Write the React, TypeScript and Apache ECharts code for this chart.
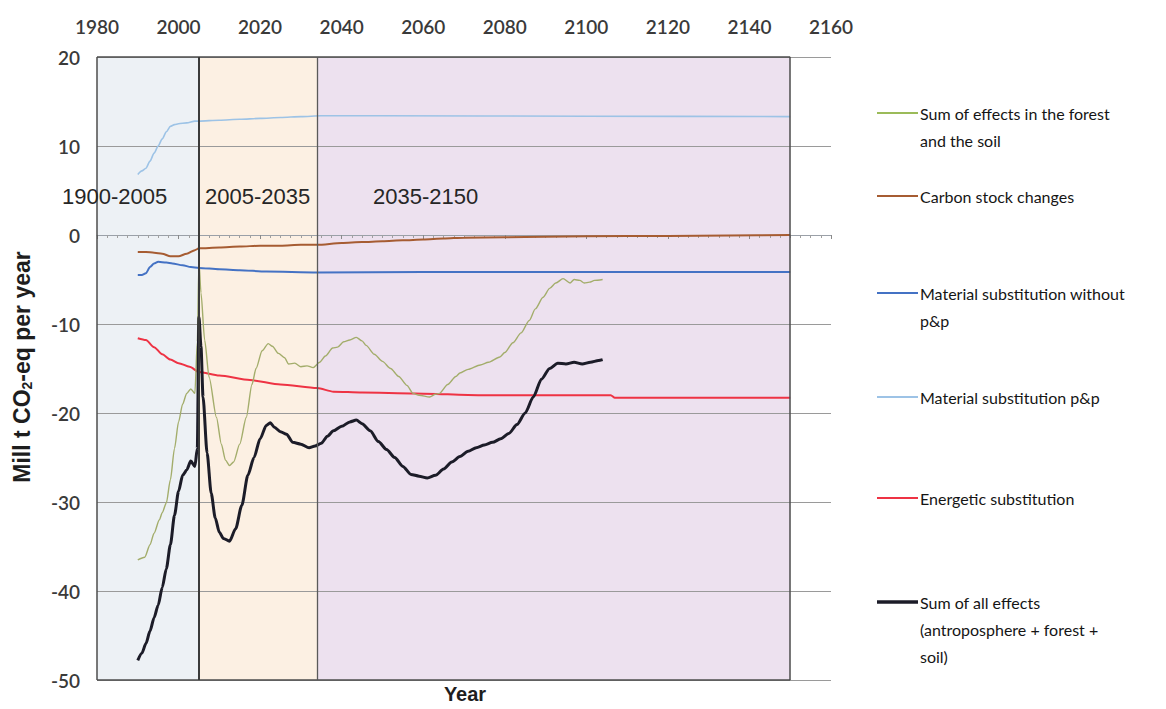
import { useEffect, useRef } from "react";
import * as echarts from "echarts";

// Axis ranges and ticks
const yearMin = 1980;
const yearMax = 2160;
const yearStep = 20;
const valueMin = -50;
const valueMax = 20;
const valueStep = 10;

// Period boundaries (years) and labels
const periodBounds = [1980, 2005, 2034, 2150];
const periodLabels = ["1900-2005", "2005-2035", "2035-2150"];
const periodColors = ["#edf1f5", "#fcf0e3", "#ede1ef"];

// Series: [year, Mill t CO2-eq per year]
const forestSoil: [number, number][] = [
  [1990, -36.5], [1991.7, -36.2], [1993, -34.8], [1994, -33.5], [1995.3, -32.0], [1996, -31.2],
  [1997, -30.1], [1998, -27.5], [1999, -24.0], [2000, -21.0], [2001, -19.0], [2002, -17.8],
  [2003, -17.3], [2004, -17.8], [2004.6, -12.0], [2005, -3.0], [2005.5, -6.5], [2006.4, -11.8],
  [2007.5, -16.0], [2009.3, -20.5], [2010.5, -23.5], [2011.5, -25.3], [2012.5, -25.9], [2013.5, -25.5],
  [2015, -23.5], [2016.6, -20.5], [2018, -16.8], [2019, -15.0], [2020.5, -13.0], [2022, -12.2],
  [2023, -12.5], [2024.5, -13.3], [2026, -13.8], [2027, -14.5], [2028.5, -14.4], [2030, -14.8],
  [2031.5, -14.7], [2033, -14.9], [2034.6, -14.3], [2036, -13.6], [2037.8, -12.7], [2039, -12.6],
  [2040.5, -12.0], [2042, -11.8], [2043.6, -11.5], [2045, -11.9], [2046, -12.4], [2048, -13.4],
  [2050, -14.2], [2052, -15.0], [2054, -15.9], [2056, -16.9], [2057.5, -17.8], [2059, -18.0],
  [2061.6, -18.2], [2063, -17.9], [2064, -17.8], [2066, -16.8], [2068, -15.9], [2069, -15.5],
  [2071, -15.1], [2074, -14.6], [2076, -14.3], [2078.8, -13.7], [2080, -13.2], [2082, -12.1],
  [2084, -11.0], [2086, -9.6], [2087.5, -8.3], [2089.4, -7.0], [2091, -6.0], [2092.5, -5.4],
  [2094.3, -4.9], [2096, -5.4], [2097, -5.0], [2098.4, -5.1], [2099.5, -5.4], [2100.8, -5.3],
  [2102, -5.1], [2104, -5.0],
];

const carbonStock: [number, number][] = [
  [1990, -1.9], [1992, -1.9], [1994, -2.0], [1996, -2.1], [1998, -2.4], [2000, -2.4],
  [2002, -2.1], [2004, -1.7], [2005, -1.5], [2010, -1.4], [2015, -1.3], [2020, -1.2],
  [2025, -1.2], [2030, -1.1], [2034, -1.1], [2040, -0.9], [2045, -0.8], [2050, -0.7],
  [2055, -0.6], [2060, -0.5], [2065, -0.4], [2070, -0.3], [2080, -0.25], [2090, -0.2],
  [2100, -0.15], [2120, -0.1], [2135, -0.05], [2150, 0.0],
];

const materialNoPP: [number, number][] = [
  [1990, -4.5], [1991, -4.5], [1992, -4.3], [1993, -3.6], [1994, -3.2], [1995, -3.0],
  [1997, -3.1], [1998.5, -3.2], [2001, -3.4], [2003, -3.6], [2005, -3.7], [2010, -3.85],
  [2015, -3.95], [2021.5, -4.1], [2034, -4.2], [2060, -4.15], [2100, -4.15], [2150, -4.15],
];

const materialPP: [number, number][] = [
  [1990, 6.8], [1991, 7.2], [1992, 7.5], [1993, 8.3], [1994, 9.2], [1995, 10.0],
  [1996, 10.8], [1997, 11.6], [1998, 12.2], [1999, 12.4], [2000, 12.5], [2002, 12.6],
  [2004, 12.8], [2005, 12.8], [2010, 12.9], [2015, 13.0], [2020, 13.1], [2025, 13.2],
  [2030, 13.3], [2035, 13.4], [2050, 13.4], [2100, 13.35], [2150, 13.3],
];

const energetic: [number, number][] = [
  [1990, -11.6], [1992, -11.8], [1994, -12.6], [1996, -13.4], [1998, -14.0], [2000, -14.4],
  [2002.7, -14.8], [2005, -15.4], [2010, -15.8], [2017.5, -16.3], [2025, -16.8], [2034, -17.2],
  [2038, -17.6], [2045, -17.7], [2058, -17.8], [2074, -18.0], [2090, -18.0], [2106, -18.0],
  [2107, -18.3], [2150, -18.3],
];

const allEffects: [number, number][] = [
  [1990, -47.8], [1991, -47.0], [1992, -45.9], [1993, -44.5], [1994, -43.0], [1995, -41.6],
  [1996, -39.6], [1997, -37.5], [1998, -34.8], [1999, -31.5], [2000, -28.8], [2001, -27.0],
  [2002, -26.4], [2003, -25.4], [2004, -26.0], [2004.6, -24.0], [2005, -9.2], [2005.5, -12.5],
  [2006, -18.2], [2007, -24.5], [2008, -29.0], [2009, -31.8], [2010, -33.4], [2011, -34.1],
  [2012.5, -34.4], [2014, -33.0], [2015.5, -30.4], [2017, -27.0], [2018.5, -25.0], [2020, -22.9],
  [2021.5, -21.4], [2022.5, -21.1], [2023.5, -21.6], [2025, -22.1], [2026.5, -22.4], [2028, -23.3],
  [2030, -23.5], [2032, -23.9], [2033.5, -23.7], [2035, -23.4], [2036.5, -22.6], [2038, -22.0],
  [2040, -21.5], [2042, -21.0], [2043.6, -20.8], [2045, -21.2], [2047, -22.0], [2049, -23.2],
  [2051, -24.1], [2053, -25.0], [2055, -26.0], [2057, -26.9], [2059, -27.1], [2061, -27.3],
  [2063, -27.0], [2065, -26.3], [2067, -25.5], [2069, -24.9], [2071, -24.3], [2073, -23.9],
  [2075, -23.6], [2077, -23.3], [2079, -22.9], [2081, -22.3], [2083, -21.3], [2085, -20.0],
  [2087, -18.2], [2089, -16.2], [2091, -15.0], [2093, -14.4], [2095, -14.5], [2097, -14.3],
  [2099, -14.5], [2101, -14.3], [2103, -14.1], [2104, -14.0],
];

// Legend entries (name lines, colour, width)
const legendEntries = [
  { lines: ["Sum of effects in the forest", "and the soil"], color: "#9bbb59", width: 2, y: 113 },
  { lines: ["Carbon stock changes"], color: "#a65c32", width: 2, y: 196 },
  { lines: ["Material substitution without", "p&p"], color: "#4472c4", width: 2, y: 293 },
  { lines: ["Material substitution p&p"], color: "#9dc3e6", width: 2, y: 397 },
  { lines: ["Energetic substitution"], color: "#ee3344", width: 2, y: 498 },
  { lines: ["Sum of all effects", "(antroposphere + forest +", "soil)"], color: "#1c1c28", width: 3.5, y: 602 },
];

const axisFont = "Lato, 'Open Sans', sans-serif";

function lineSeries(name: string, data: [number, number][], color: string, width: number) {
  return {
    name,
    type: "line",
    data,
    z: 3,
    showSymbol: false,
    symbol: "none",
    smooth: 0.25,
    smoothMonotone: "x",
    lineStyle: { color, width },
    itemStyle: { color },
  };
}

export default function App() {
  const ref = useRef<HTMLDivElement>(null);

  useEffect(() => {
    const chart = echarts.init(ref.current!, null, { renderer: "svg" });

    const boxColor = "#4d4d4d";
    const boxLines = [
      [{ coord: [periodBounds[0], valueMax] }, { coord: [periodBounds[3], valueMax] }],
      [{ coord: [periodBounds[0], valueMin] }, { coord: [periodBounds[3], valueMin] }],
      [{ coord: [periodBounds[0], valueMin] }, { coord: [periodBounds[0], valueMax] }],
      [{ coord: [periodBounds[3], valueMin] }, { coord: [periodBounds[3], valueMax] }],
      [
        { coord: [periodBounds[1], valueMin], lineStyle: { width: 2, color: "#3a3a3a" } },
        { coord: [periodBounds[1], valueMax] },
      ],
      [
        { coord: [periodBounds[2], valueMin], lineStyle: { width: 1.3, color: "#5a5a5a" } },
        { coord: [periodBounds[2], valueMax] },
      ],
    ];

    const legendGraphics: any[] = [];
    legendEntries.forEach((e) => {
      legendGraphics.push({
        type: "line",
        z: 10,
        shape: { x1: 877, y1: e.y, x2: 918, y2: e.y },
        style: { stroke: e.color, lineWidth: e.width },
      });
      e.lines.forEach((t, i) => {
        legendGraphics.push({
          type: "text",
          z: 10,
          x: 920,
          y: e.y + i * 27,
          style: {
            text: t,
            font: `16px ${axisFont}`,
            fill: "#151515",
            verticalAlign: "middle",
          },
        });
      });
    });

    const periodTextX = [62, 205, 373];
    const periodGraphics = periodLabels.map((t, i) => ({
      type: "text",
      z: 10,
      x: periodTextX[i],
      y: 196,
      style: {
        text: t,
        font: "22px 'Liberation Sans', Arial, sans-serif",
        fill: "#262626",
        verticalAlign: "middle",
      },
    }));

    const tickLabel = {
      color: "#3a3a3a",
      fontSize: 19,
      fontWeight: 600,
      fontFamily: axisFont,
      formatter: (v: number) => String(v),
    };

    chart.setOption({
      animation: false,
      backgroundColor: "#ffffff",
      grid: { left: 97, right: 335, top: 57, bottom: 29, containLabel: false },
      xAxis: [
        {
          type: "value",
          position: "top",
          min: yearMin,
          max: yearMax,
          interval: yearStep,
          axisLine: { show: false, onZero: false },
          axisTick: { show: false },
          splitLine: { show: false },
          axisLabel: { ...tickLabel, margin: 21 },
          z: 2,
        },
        {
          type: "value",
          position: "bottom",
          min: yearMin,
          max: yearMax,
          interval: yearStep,
          axisLine: { show: true, onZero: true, lineStyle: { color: "#9aa0a8", width: 1 } },
          axisTick: { show: true, length: 4, lineStyle: { color: "#8a8a8a" } },
          minorTick: { show: true, splitNumber: 8, length: 3, lineStyle: { color: "#a0a0a0" } },
          axisLabel: { show: false },
          splitLine: { show: false },
          z: 2,
        },
      ],
      yAxis: {
        type: "value",
        min: valueMin,
        max: valueMax,
        interval: valueStep,
        axisLine: { show: false },
        axisTick: { show: false },
        axisLabel: { ...tickLabel, margin: 17 },
        splitLine: { show: true, lineStyle: { color: "#9a9a9a", width: 1 } },
        z: 2,
      },
      series: [
        {
          name: "periods",
          type: "line",
          data: [],
          z: 1,
          silent: true,
          markArea: {
            silent: true,
            data: periodColors.map((c, i) => [
              { coord: [periodBounds[i], valueMax], itemStyle: { color: c, opacity: 1 } },
              { coord: [periodBounds[i + 1], valueMin] },
            ]),
          },
        },
        lineSeries("Material substitution p&p", materialPP, "#9dc3e6", 1.6),
        lineSeries("Carbon stock changes", carbonStock, "#a65c32", 2),
        lineSeries("Material substitution without p&p", materialNoPP, "#4472c4", 2),
        lineSeries("Energetic substitution", energetic, "#ee3344", 2),
        lineSeries("Sum of effects in the forest and the soil", forestSoil, "#a3ad6b", 1.4),
        lineSeries("Sum of all effects (antroposphere + forest + soil)", allEffects, "#1c1c28", 3),
        {
          name: "box",
          type: "line",
          data: [],
          silent: true,
          markLine: {
            silent: true,
            symbol: ["none", "none"],
            label: { show: false },
            lineStyle: { color: boxColor, width: 1.5, type: "solid" },
            data: boxLines,
          },
        },
      ],
      graphic: [
        ...periodGraphics,
        ...legendGraphics,
        {
          type: "text",
          z: 10,
          x: 22,
          y: 367,
          rotation: Math.PI / 2,
          style: {
            text: "Mill t CO{sub|2}-eq per year",
            font: "bold 23px 'Liberation Sans', Arial, sans-serif",
            fill: "#1e1e1e",
            align: "center",
            verticalAlign: "middle",
            rich: {
              sub: {
                font: "bold 14px 'Liberation Sans', Arial, sans-serif",
                fill: "#1e1e1e",
                verticalAlign: "bottom",
                padding: [7, 0, 0, 0],
              },
            },
          },
        },
        {
          type: "text",
          z: 10,
          x: 465,
          y: 694,
          style: {
            text: "Year",
            font: "bold 20px 'Liberation Sans', Arial, sans-serif",
            fill: "#1e1e1e",
            align: "center",
            verticalAlign: "middle",
          },
        },
      ],
    });

    return () => chart.dispose();
  }, []);

  return (
    <div
      ref={ref}
      style={{ position: "fixed", left: 0, top: 0, width: 1166, height: 709, background: "#fff" }}
    />
  );
}
